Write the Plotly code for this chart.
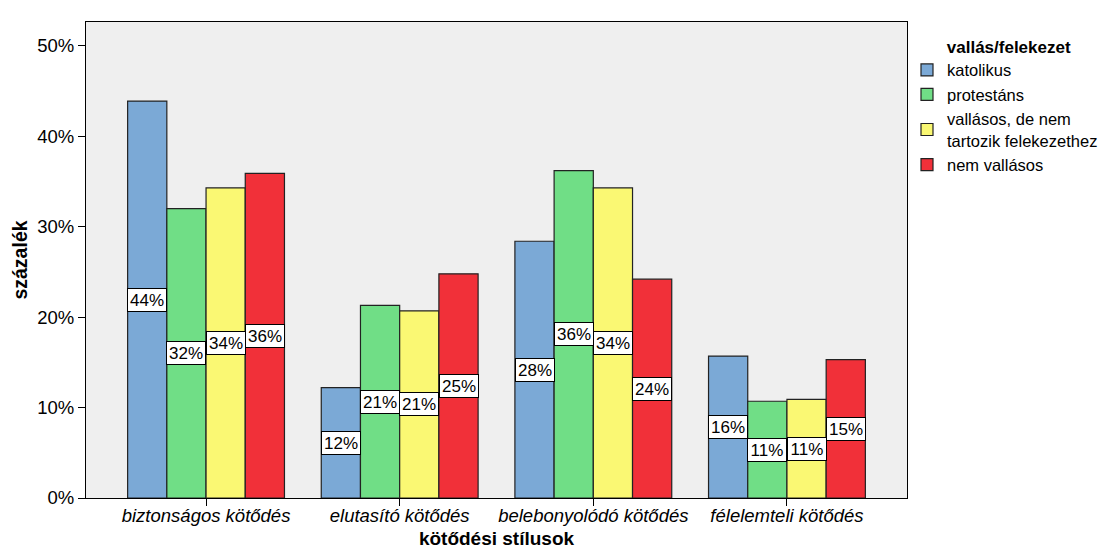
import plotly.graph_objects as go

categories = ["biztonságos kötődés", "elutasító kötődés", "belebonyolódó kötődés", "félelemteli kötődés"]
series_names = ["katolikus", "protestáns", "vallásos, de nem<br>tartozik felekezethez", "nem vallásos"]
katolikus = [43.9, 12.2, 28.4, 15.7]
protestans = [32.0, 21.3, 36.2, 10.7]
vallasos_nem_felekezet = [34.3, 20.7, 34.3, 10.9]
nem_vallasos = [35.9, 24.8, 24.2, 15.3]
series_values = [katolikus, protestans, vallasos_nem_felekezet, nem_vallasos]
label_texts = [["44%", "12%", "28%", "16%"],
               ["32%", "21%", "36%", "11%"],
               ["34%", "21%", "34%", "11%"],
               ["36%", "25%", "24%", "15%"]]
y_tick_values = [0, 10, 20, 30, 40, 50]
y_tick_labels = ["0%", "10%", "20%", "30%", "40%", "50%"]
colors = ["#7BA9D6", "#70DE86", "#FAF873", "#F13039"]

FONT = "Arial, Liberation Sans, sans-serif"
xpos = list(range(len(categories)))
group_width = 0.81
bar_w = group_width / len(series_names)

fig = go.Figure()
for i, (name, vals, col) in enumerate(zip(series_names, series_values, colors)):
    offset = -group_width / 2 + i * bar_w
    fig.add_trace(go.Bar(
        x=xpos, y=vals, name=name, width=bar_w, offset=offset,
        marker=dict(color=col, line=dict(color="#222222", width=1.2)),
    ))
    for xi, v, t in zip(xpos, vals, label_texts[i]):
        fig.add_annotation(
            x=xi + offset + bar_w / 2, y=v / 2, xref="x", yref="y",
            text=t, showarrow=False,
            font=dict(family=FONT, size=17, color="black"),
            bgcolor="white", bordercolor="black", borderwidth=1,
            width=38, height=22, borderpad=0,
        )

fig.update_layout(
    width=1107, height=548,
    margin=dict(l=78, r=188, t=14, b=58),
    paper_bgcolor="white", plot_bgcolor="#EFEFEF",
    barmode="overlay",
    font=dict(family=FONT, size=18, color="black"),
    showlegend=True,
    legend=dict(
        x=1.0, xanchor="left", y=0.982, yanchor="top",
        title=dict(text="&nbsp;" * 8 + "<b>vallás/felekezet</b>", font=dict(family=FONT, size=17)),
        font=dict(family=FONT, size=16.5, color="black"),
        traceorder="normal", bgcolor="rgba(0,0,0,0)",
        itemwidth=30, tracegroupgap=0,
    ),
    xaxis=dict(
        range=[-0.62, 3.62], tickmode="array", tickvals=xpos,
        ticktext=[f"<i>{c}</i>" for c in categories],
        ticks="outside", ticklen=7, tickcolor="black",
        showline=True, linecolor="black", linewidth=1, mirror=True,
        showgrid=False, zeroline=False, automargin=False,
        ticklabelstandoff=-6,
        tickfont=dict(family=FONT, size=18.5),
        title=dict(text="<b>kötődési stílusok</b>", font=dict(family=FONT, size=19), standoff=6),
    ),
    yaxis=dict(
        range=[0, 52.65], tickmode="array", tickvals=y_tick_values, ticktext=y_tick_labels,
        ticks="outside", ticklen=7, tickcolor="black",
        showline=True, linecolor="black", linewidth=1, mirror=True,
        showgrid=False, zeroline=False, automargin=False,
        tickfont=dict(family=FONT, size=18.5),
        title=dict(text="<b>százalék</b>", font=dict(family=FONT, size=19.5), standoff=4),
    ),
)

fig.write_html("out.html")
